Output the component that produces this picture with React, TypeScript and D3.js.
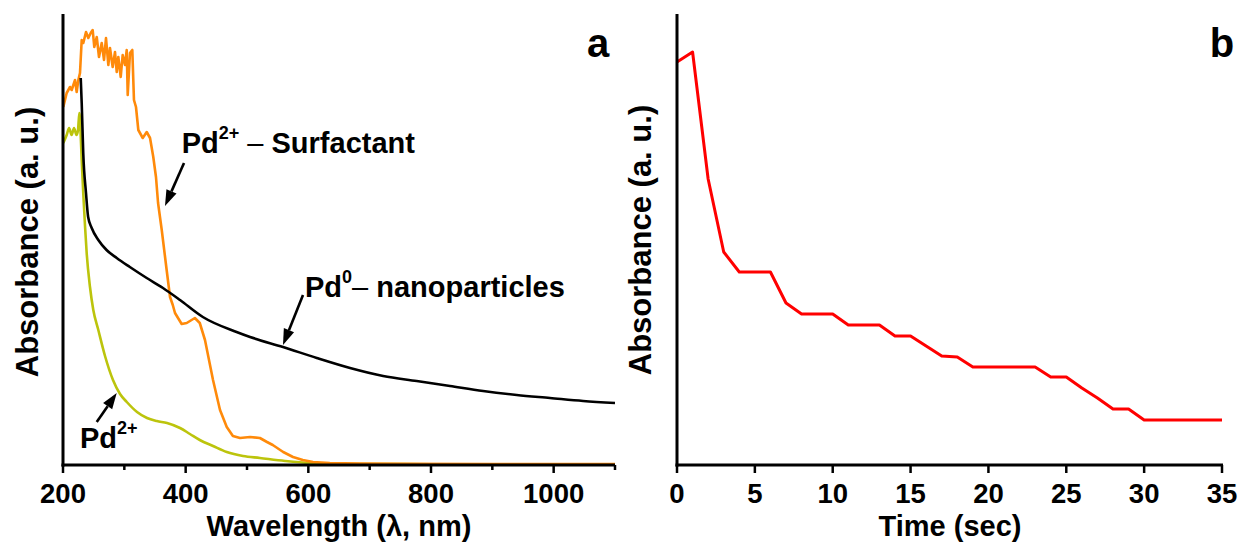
import React from "react";
import * as d3 from "d3";

// ---------- Panel a data (wavelength nm, absorbance a.u.) ----------
const orangeWavelength = [200.5, 206, 211.4, 214.2, 219.6, 222.3, 225, 227.7, 230.5, 233.1, 237.5, 241.3, 245.2, 248.4, 251, 255, 258.7, 263.1, 266.9, 270.1, 273.9, 276.6, 281, 284.8, 287.6, 290.2, 294.1, 297.3, 301.1, 303.9, 305.5, 309.2, 313, 315.7, 319, 322.8, 330, 336.5, 341.9, 347.2, 351.6, 355, 361, 369, 374.5, 379, 382.6, 393.5, 401.7, 415, 423, 431.5, 444.6, 456, 467, 477, 488.6, 505, 521, 532.6, 542, 559, 575, 591, 607.6, 635, 684, 750, 900, 1100];
const orangeAbs = [3.58, 3.72, 3.78, 3.75, 3.85, 3.73, 3.85, 3.92, 4.25, 4.22, 4.33, 4.27, 4.32, 4.35, 4.18, 4.28, 4.08, 4.22, 4.05, 4.27, 4.0, 4.17, 3.98, 4.13, 3.93, 4.08, 3.88, 4.1, 4.0, 4.15, 3.7, 4.12, 4.15, 3.65, 3.58, 3.35, 3.27, 3.33, 3.27, 3.08, 2.88, 2.62, 2.35, 1.95, 1.68, 1.6, 1.52, 1.41, 1.42, 1.47, 1.42, 1.25, 0.85, 0.55, 0.38, 0.29, 0.27, 0.28, 0.27, 0.23, 0.2, 0.13, 0.08, 0.05, 0.03, 0.02, 0.015, 0.012, 0.01, 0.01];

const blackWavelength = [228.9, 230.5, 233, 237.5, 241, 246.8, 257.6, 271, 287.6, 309, 336.5, 363, 390.8, 428, 483, 505, 558.7, 613.7, 668, 722, 776.7, 831, 885, 939.8, 994, 1048, 1100];
const blackAbs = [3.87, 3.62, 3.12, 2.72, 2.48, 2.37, 2.25, 2.15, 2.07, 1.98, 1.87, 1.77, 1.65, 1.48, 1.33, 1.28, 1.18, 1.07, 0.97, 0.89, 0.84, 0.79, 0.74, 0.7, 0.67, 0.64, 0.62];

const greenWavelength = [200.5, 206, 210, 214, 218, 222, 224.5, 226.6, 228.5, 230.5, 233, 236, 238.6, 244, 249.4, 257.6, 268.5, 281.5, 293, 304, 320.7, 337, 353, 369.6, 390.8, 407, 423, 444.6, 467, 493.5, 521, 562, 602.7, 684, 800, 1100];
const greenAbs = [3.22, 3.3, 3.37, 3.3, 3.37, 3.3, 3.35, 3.52, 3.35, 3.05, 2.72, 2.38, 2.12, 1.78, 1.55, 1.35, 1.09, 0.85, 0.71, 0.63, 0.53, 0.47, 0.44, 0.42, 0.37, 0.31, 0.25, 0.19, 0.13, 0.09, 0.07, 0.04, 0.02, 0.01, 0.008, 0.008];

const wavelengthTicks = [200, 300, 400, 500, 600, 700, 800, 900, 1000, 1100];
const wavelengthLabels = [200, 400, 600, 800, 1000];

// ---------- Panel b data (time s, absorbance a.u.) ----------
const timeSec = [0, 1, 2, 3, 4, 5, 6, 7, 8, 9, 10, 11, 12, 13, 14, 15, 16, 17, 18, 19, 20, 21, 22, 23, 24, 25, 26, 27, 28, 29, 30, 31, 32, 33, 34, 35];
const timeAbs = [4.03, 4.13, 2.86, 2.13, 1.93, 1.93, 1.93, 1.62, 1.51, 1.51, 1.51, 1.4, 1.4, 1.4, 1.29, 1.29, 1.19, 1.09, 1.08, 0.98, 0.98, 0.98, 0.98, 0.98, 0.88, 0.88, 0.77, 0.67, 0.56, 0.56, 0.45, 0.45, 0.45, 0.45, 0.45, 0.45];
const timeTicks = [0, 5, 10, 15, 20, 25, 30, 35];

const FONT = "'Liberation Sans', Arial, Helvetica, sans-serif";

function Arrow({ x1, y1, x2, y2 }: { x1: number; y1: number; x2: number; y2: number }) {
  const ang = Math.atan2(y2 - y1, x2 - x1);
  const L = 16;
  const W = 5.5;
  const bx = x2 - L * Math.cos(ang);
  const by = y2 - L * Math.sin(ang);
  const px = -Math.sin(ang) * W;
  const py = Math.cos(ang) * W;
  return (
    <g>
      <line x1={x1} y1={y1} x2={bx} y2={by} stroke="#000" strokeWidth={2.6} />
      <polygon points={`${x2},${y2} ${bx + px},${by + py} ${bx - px},${by - py}`} fill="#000" />
    </g>
  );
}

export default function App() {
  const yTop = 14;
  const yBot = 465;
  // panel a scales
  const xa = d3.scaleLinear().domain([200, 1100]).range([63, 615]);
  const ya = d3.scaleLinear().domain([0, 4.51]).range([yBot, yTop]);
  // panel b scales
  const xb = d3.scaleLinear().domain([0, 35]).range([677, 1222]);
  const yb = d3.scaleLinear().domain([0, 4.51]).range([yBot, yTop]);

  const lineA = (xs: number[], ys: number[], curve: d3.CurveFactory) =>
    d3
      .line<number>()
      .x((_, i) => xa(xs[i]))
      .y((_, i) => ya(ys[i]))
      .curve(curve)(xs) || "";

  const orangePath = lineA(orangeWavelength, orangeAbs, d3.curveLinear);
  const blackPath = lineA(blackWavelength, blackAbs, d3.curveMonotoneX);
  const greenPath = lineA(greenWavelength, greenAbs, d3.curveMonotoneX);
  const redPath =
    d3
      .line<number>()
      .x((_, i) => xb(timeSec[i]))
      .y((_, i) => yb(timeAbs[i]))(timeSec) || "";

  const tickFont = 27.5;
  const titleFont = 29;
  const yTitleFont = 31;
  const annFont = 29;
  const tickY = 503;
  const titleY = 535.5;

  return (
    <svg
      width={1243}
      height={542}
      style={{ position: "absolute", left: 0, top: 0, background: "#fff" }}
      fontFamily={FONT}
    >
      {/* ---------- Panel a ---------- */}
      <path d={greenPath} fill="none" stroke="#bcc40c" strokeWidth={2.6} strokeLinejoin="round" />
      <path d={orangePath} fill="none" stroke="#ff8a0a" strokeWidth={2.6} strokeLinejoin="round" />
      <path d={blackPath} fill="none" stroke="#000" strokeWidth={2.6} strokeLinejoin="round" />

      {/* axes a */}
      <line x1={xa(200)} y1={yTop} x2={xa(200)} y2={yBot + 1.5} stroke="#000" strokeWidth={3} />
      <line x1={xa(200) - 1.5} y1={yBot} x2={xa(1100)} y2={yBot} stroke="#000" strokeWidth={3} />
      {wavelengthTicks.map((t) => (
        <line
          key={"ta" + t}
          x1={xa(t)}
          x2={xa(t)}
          y1={yBot}
          y2={yBot + (wavelengthLabels.includes(t) ? 8 : 5)}
          stroke="#000"
          strokeWidth={2.5}
        />
      ))}
      {wavelengthLabels.map((t) => (
        <text key={"la" + t} x={xa(t)} y={tickY} textAnchor="middle" fontSize={tickFont} fontWeight="bold">
          {t}
        </text>
      ))}
      <text x={339} y={titleY} textAnchor="middle" fontSize={titleFont} fontWeight="bold">
        Wavelength (λ, nm)
      </text>
      <text
        transform={`translate(38,242) rotate(-90)`}
        textAnchor="middle"
        fontSize={yTitleFont}
        fontWeight="bold"
      >
        Absorbance (a. u.)
      </text>
      <text x={598} y={57} textAnchor="middle" fontSize={40} fontWeight="bold">
        a
      </text>

      {/* annotations a */}
      <text x={xa(393.5)} y={ya(3.12)} fontSize={annFont} fontWeight="bold">
        Pd
        <tspan dy={-14} fontSize={18}>2+</tspan>
        <tspan dy={14} fontWeight="normal"> – </tspan>
        <tspan>Surfactant</tspan>
      </text>
      <Arrow x1={xa(397.3)} y1={ya(3.02)} x2={xa(366.3)} y2={ya(2.59)} />

      <text x={xa(594.6)} y={ya(1.68)} fontSize={annFont} fontWeight="bold">
        Pd
        <tspan dy={-14} fontSize={18}>0</tspan>
        <tspan dy={14} fontWeight="normal">– </tspan>
        <tspan>nanoparticles</tspan>
      </text>
      <Arrow x1={xa(591.3)} y1={ya(1.7)} x2={xa(558.7)} y2={ya(1.2)} />

      <text x={xa(227.7)} y={ya(0.17)} fontSize={annFont} fontWeight="bold">
        Pd
        <tspan dy={-14} fontSize={18}>2+</tspan>
      </text>
      <Arrow x1={xa(255)} y1={ya(0.43)} x2={xa(287.6)} y2={ya(0.72)} />

      {/* ---------- Panel b ---------- */}
      <path d={redPath} fill="none" stroke="#f00" strokeWidth={3} strokeLinejoin="round" />
      <line x1={xb(0)} y1={yTop} x2={xb(0)} y2={yBot + 1.5} stroke="#000" strokeWidth={3} />
      <line x1={xb(0) - 1.5} y1={yBot} x2={xb(35) + 1} y2={yBot} stroke="#000" strokeWidth={3} />
      {timeTicks.map((t) => (
        <line key={"tb" + t} x1={xb(t)} x2={xb(t)} y1={yBot} y2={yBot + 8} stroke="#000" strokeWidth={2.5} />
      ))}
      {timeTicks.map((t) => (
        <text key={"lb" + t} x={xb(t)} y={tickY} textAnchor="middle" fontSize={tickFont} fontWeight="bold">
          {t}
        </text>
      ))}
      <text x={950} y={titleY} textAnchor="middle" fontSize={titleFont} fontWeight="bold">
        Time (sec)
      </text>
      <text
        transform={`translate(651,240) rotate(-90)`}
        textAnchor="middle"
        fontSize={yTitleFont}
        fontWeight="bold"
      >
        Absorbance (a. u.)
      </text>
      <text x={1222} y={57} textAnchor="middle" fontSize={40} fontWeight="bold">
        b
      </text>
    </svg>
  );
}
